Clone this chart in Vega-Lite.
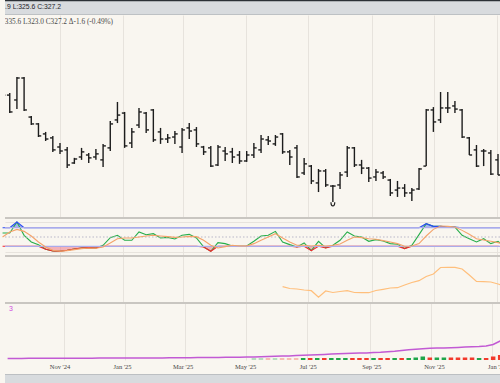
{
"$schema": "https://vega.github.io/schema/vega-lite/v6.json",
"background": "#f9f6f0",
"padding": 0,
"spacing": 0,
"bounds": "flush",
"config": {"view": {"stroke": null}, "axis": {"labels": false, "ticks": false, "domain": false, "grid": false, "minExtent": 0, "gridColor": "#e7e3dd", "gridWidth": 1, "gridOpacity": 1}},
"datasets": {
"w": [
{"date":"2024-09-06","open":361.1,"high":363.8,"low":359.3,"close":361.5,"k":62.9,"d":50.0,"oi":1.6},
{"date":"2024-09-13","open":361.5,"high":362.4,"low":353.4,"close":353.9,"k":62.9,"d":66.1,"oi":1.6},
{"date":"2024-09-20","open":359.3,"high":369.6,"low":355.2,"close":369.2,"k":98.2,"d":74.6,"oi":1.6},
{"date":"2024-09-27","open":369.2,"high":369.6,"low":354.3,"close":354.8,"k":55.4,"d":68.2,"oi":1.7},
{"date":"2024-10-04","open":351.6,"high":352.1,"low":348.0,"close":348.5,"k":33.9,"d":53.2,"oi":1.7},
{"date":"2024-10-11","open":348.5,"high":348.9,"low":342.6,"close":343.1,"k":25.4,"d":33.9,"oi":1.7},
{"date":"2024-10-18","open":344.0,"high":344.9,"low":340.8,"close":341.7,"k":10.4,"d":17.9,"oi":1.7},
{"date":"2024-10-25","open":342.2,"high":343.1,"low":335.9,"close":336.8,"k":5.0,"d":7.1,"oi":1.7},
{"date":"2024-11-01","open":338.1,"high":339.9,"low":335.0,"close":336.3,"k":3.9,"d":3.9,"oi":1.8},
{"date":"2024-11-08","open":336.8,"high":338.1,"low":328.6,"close":330.0,"k":7.1,"d":6.1,"oi":1.8},
{"date":"2024-11-15","open":330.9,"high":333.2,"low":330.5,"close":332.7,"k":11.4,"d":9.3,"oi":1.8},
{"date":"2024-11-22","open":333.6,"high":337.7,"low":332.3,"close":335.9,"k":14.6,"d":12.5,"oi":1.8},
{"date":"2024-11-29","open":334.5,"high":335.4,"low":330.9,"close":333.2,"k":15.7,"d":14.6,"oi":1.8},
{"date":"2024-12-06","open":333.6,"high":337.2,"low":332.3,"close":335.0,"k":14.6,"d":13.6,"oi":1.9},
{"date":"2024-12-13","open":332.3,"high":339.5,"low":329.1,"close":338.6,"k":23.2,"d":17.9,"oi":1.9},
{"date":"2024-12-20","open":337.7,"high":349.8,"low":336.3,"close":348.5,"k":47.9,"d":30.7,"oi":1.9},
{"date":"2024-12-27","open":350.3,"high":358.4,"low":348.9,"close":352.5,"k":55.4,"d":44.6,"oi":1.9},
{"date":"2025-01-03","open":353.4,"high":353.9,"low":337.7,"close":338.6,"k":39.3,"d":46.8,"oi":2.0},
{"date":"2025-01-10","open":339.9,"high":346.7,"low":337.7,"close":344.9,"k":39.3,"d":46.8,"oi":2.0},
{"date":"2025-01-17","open":348.0,"high":355.7,"low":346.7,"close":353.9,"k":66.1,"d":50.0,"oi":2.0},
{"date":"2025-01-24","open":353.4,"high":353.9,"low":344.4,"close":345.8,"k":57.5,"d":53.2,"oi":2.0},
{"date":"2025-01-31","open":354.8,"high":355.2,"low":340.4,"close":341.3,"k":60.7,"d":55.4,"oi":2.1},
{"date":"2025-02-07","open":344.9,"high":346.7,"low":339.5,"close":341.7,"k":46.8,"d":53.2,"oi":2.1},
{"date":"2025-02-14","open":341.7,"high":344.0,"low":339.9,"close":342.2,"k":48.9,"d":51.1,"oi":2.2},
{"date":"2025-02-21","open":342.6,"high":345.3,"low":339.5,"close":344.0,"k":43.6,"d":48.9,"oi":2.2},
{"date":"2025-02-28","open":338.1,"high":346.7,"low":335.4,"close":345.8,"k":55.4,"d":50.0,"oi":2.3},
{"date":"2025-03-07","open":346.7,"high":348.9,"low":341.7,"close":345.3,"k":58.6,"d":52.1,"oi":2.3},
{"date":"2025-03-14","open":345.8,"high":347.1,"low":338.1,"close":339.5,"k":46.8,"d":51.1,"oi":2.4},
{"date":"2025-03-21","open":338.1,"high":338.6,"low":334.5,"close":335.9,"k":17.9,"d":39.3,"oi":2.4},
{"date":"2025-03-28","open":337.7,"high":338.6,"low":329.1,"close":329.5,"k":3.9,"d":23.2,"oi":2.5},
{"date":"2025-04-04","open":330.0,"high":339.0,"low":329.5,"close":338.1,"k":31.8,"d":14.6,"oi":2.6},
{"date":"2025-04-11","open":336.3,"high":338.1,"low":331.8,"close":335.0,"k":28.6,"d":18.9,"oi":2.7},
{"date":"2025-04-18","open":335.9,"high":337.7,"low":330.9,"close":333.6,"k":21.1,"d":23.2,"oi":2.7},
{"date":"2025-04-25","open":334.5,"high":336.3,"low":330.5,"close":331.8,"k":20.0,"d":21.1,"oi":2.8},
{"date":"2025-05-02","open":331.8,"high":336.3,"low":331.4,"close":334.5,"k":21.1,"d":21.1,"oi":2.9},
{"date":"2025-05-09","open":334.5,"high":339.9,"low":333.2,"close":337.7,"k":36.1,"d":28.6,"oi":3.1,"vol":2},
{"date":"2025-05-16","open":336.8,"high":343.5,"low":335.4,"close":341.7,"k":53.2,"d":39.3,"oi":3.3,"vol":2},
{"date":"2025-05-23","open":341.3,"high":343.1,"low":339.0,"close":340.8,"k":55.4,"d":50.0,"oi":3.5,"vol":2},
{"date":"2025-05-30","open":339.5,"high":343.5,"low":338.6,"close":342.6,"k":68.2,"d":60.7,"oi":3.7,"vol":2},
{"date":"2025-06-06","open":344.0,"high":344.4,"low":335.0,"close":335.9,"k":33.9,"d":46.8,"oi":3.9,"vol":2,"h":32.6},
{"date":"2025-06-13","open":335.9,"high":336.8,"low":330.0,"close":333.6,"k":25.4,"d":33.9,"oi":4.1,"vol":2,"h":29.0},
{"date":"2025-06-20","open":337.7,"high":339.0,"low":324.1,"close":324.6,"k":17.9,"d":23.2,"oi":4.4,"vol":2,"h":28.0},
{"date":"2025-06-27","open":326.4,"high":333.2,"low":325.5,"close":330.5,"k":30.7,"d":23.2,"oi":4.8,"vol":2,"h":26.0},
{"date":"2025-07-04","open":329.5,"high":330.0,"low":321.4,"close":322.8,"k":6.1,"d":21.1,"oi":5.0,"vol":2,"h":24.6},
{"date":"2025-07-11","open":321.9,"high":328.2,"low":317.8,"close":327.3,"k":36.1,"d":23.2,"oi":5.3,"vol":2,"h":11.4},
{"date":"2025-07-18","open":327.3,"high":328.2,"low":320.1,"close":321.0,"k":14.6,"d":21.1,"oi":5.6,"vol":2,"h":24.0},
{"date":"2025-07-25","open":320.5,"high":321.0,"low":313.3,"close":320.5,"k":23.2,"d":23.2,"oi":5.9,"vol":2,"h":21.0},
{"date":"2025-08-01","open":321.0,"high":326.8,"low":319.2,"close":325.5,"k":39.3,"d":27.5,"oi":6.2,"vol":2,"h":23.0},
{"date":"2025-08-08","open":326.8,"high":338.6,"low":324.6,"close":337.7,"k":66.1,"d":39.3,"oi":6.5,"vol":2,"h":24.6},
{"date":"2025-08-15","open":337.7,"high":338.1,"low":329.1,"close":330.0,"k":53.2,"d":50.0,"oi":6.7,"vol":2,"h":21.0},
{"date":"2025-08-22","open":330.0,"high":332.3,"low":325.9,"close":328.6,"k":50.0,"d":47.9,"oi":6.9,"vol":2,"h":20.6},
{"date":"2025-08-29","open":328.6,"high":329.1,"low":322.3,"close":324.1,"k":36.1,"d":44.6,"oi":7.1,"vol":2,"h":20.6},
{"date":"2025-09-05","open":324.6,"high":328.2,"low":322.8,"close":326.8,"k":41.4,"d":42.5,"oi":7.4,"vol":2,"h":25.0},
{"date":"2025-09-12","open":326.4,"high":327.3,"low":323.7,"close":324.6,"k":37.1,"d":38.2,"oi":7.7,"vol":2,"h":27.4},
{"date":"2025-09-19","open":323.2,"high":323.7,"low":316.0,"close":317.4,"k":28.6,"d":33.9,"oi":8.2,"vol":2,"h":30.0},
{"date":"2025-09-26","open":318.7,"high":322.8,"low":315.6,"close":319.6,"k":26.4,"d":28.6,"oi":8.8,"vol":2,"h":30.6},
{"date":"2025-10-03","open":319.6,"high":321.4,"low":315.6,"close":317.4,"k":12.5,"d":20.0,"oi":9.6,"vol":2,"h":36.0},
{"date":"2025-10-10","open":317.4,"high":319.6,"low":313.8,"close":318.7,"k":23.2,"d":21.1,"oi":10.3,"vol":2,"h":41.0},
{"date":"2025-10-17","open":319.2,"high":328.6,"low":318.7,"close":328.2,"k":57.5,"d":28.6,"oi":10.8,"vol":2.5,"h":44.6},
{"date":"2025-10-24","open":329.5,"high":355.2,"low":329.5,"close":354.8,"k":92.9,"d":53.2,"oi":11.3,"vol":3.5,"h":53.0},
{"date":"2025-10-31","open":354.8,"high":356.1,"low":344.9,"close":349.4,"k":84.3,"d":74.6,"oi":11.8,"vol":2.5,"h":58.0},
{"date":"2025-11-07","open":350.3,"high":362.9,"low":348.9,"close":355.7,"k":84.3,"d":85.4,"oi":12.0,"vol":2.5,"h":71.0},
{"date":"2025-11-14","open":355.7,"high":362.9,"low":353.4,"close":355.7,"k":82.1,"d":84.3,"oi":12.1,"vol":2.5,"h":71.4},
{"date":"2025-11-21","open":356.6,"high":358.8,"low":353.4,"close":355.2,"k":82.1,"d":82.1,"oi":12.3,"vol":2.5,"h":71.4},
{"date":"2025-11-28","open":354.8,"high":355.2,"low":342.2,"close":342.6,"k":55.4,"d":71.4,"oi":12.6,"vol":2.5,"h":68.0},
{"date":"2025-12-05","open":342.2,"high":342.6,"low":334.5,"close":334.5,"k":44.6,"d":58.6,"oi":12.9,"vol":2.5,"h":56.0},
{"date":"2025-12-12","open":336.8,"high":339.0,"low":329.1,"close":329.5,"k":33.9,"d":44.6,"oi":13.2,"vol":2.5,"h":43.0},
{"date":"2025-12-19","open":336.3,"high":337.2,"low":329.5,"close":336.3,"k":44.6,"d":40.4,"oi":13.5,"vol":2,"h":42.6},
{"date":"2025-12-26","open":335.4,"high":336.8,"low":325.5,"close":325.9,"k":28.6,"d":36.1,"oi":14.0,"vol":2,"h":42.0},
{"date":"2026-01-02","open":332.3,"high":335.0,"low":325.5,"close":325.5,"k":36.1,"d":31.8,"oi":15.5,"vol":3.5,"h":38.0},
{"date":"2026-01-09","open":333.2,"high":333.6,"low":318.7,"close":320.1,"k":17.9,"d":25.4,"oi":19.0,"vol":5,"h":34.0}
],
"months": [
{"date":"2024-11-01","label":"Nov '24"},
{"date":"2025-01-01","label":"Jan '25"},
{"date":"2025-03-01","label":"Mar '25"},
{"date":"2025-05-01","label":"May '25"},
{"date":"2025-07-01","label":"Jul '25"},
{"date":"2025-09-01","label":"Sep '25"},
{"date":"2025-11-01","label":"Nov '25"},
{"date":"2026-01-01","label":"Jan '26"}
]
},
"vconcat": [
{
"width": 500, "height": 15,
"view": {"fill": "#d8dbde", "stroke": null},
"layer": [
{"data": {"values": [{}]}, "mark": {"type": "rule", "color": "#2b3035", "strokeWidth": 2.5, "clip": true},
 "encoding": {"y": {"datum": 15, "type": "quantitative", "scale": {"domain": [0, 15]}, "axis": null}}},
{"data": {"values": [{}]}, "mark": {"type": "rule", "color": "#a3a6aa", "strokeWidth": 1, "clip": true},
 "encoding": {"y": {"datum": 0, "type": "quantitative", "scale": {"domain": [0, 15]}, "axis": null}}},
{"data": {"values": [{"date": "2024-11-02T00:00:00Z", "t": "H:333.9 L:325.6 C:327.2"}]},
 "mark": {"type": "text", "align": "right", "baseline": "middle", "font": "Liberation Sans", "fontSize": 6.8, "color": "#1f2328", "clip": true},
 "encoding": {
  "x": {"field": "date", "type": "temporal", "scale": {"type": "utc", "domain": [{"year": 2024, "month": 9, "date": 8, "hours": 9, "minutes": 7, "utc": true}, {"year": 2026, "month": 1, "date": 8, "hours": 19, "minutes": 26, "utc": true}]}, "axis": null},
  "y": {"datum": 7.7, "type": "quantitative", "scale": {"domain": [0, 15]}, "axis": null},
  "text": {"field": "t"}}}
]
},
{
"width": 500, "height": 203,
"data": {"name": "w"},
"encoding": {"x": {"field": "date", "type": "temporal", "scale": {"type": "utc", "domain": [{"year": 2024, "month": 9, "date": 8, "hours": 9, "minutes": 7, "utc": true}, {"year": 2026, "month": 1, "date": 8, "hours": 19, "minutes": 26, "utc": true}]},
  "axis": {"grid": true, "title": null, "values": [{"year":2024,"month":11,"date":1,"utc":true},{"year":2025,"month":1,"date":1,"utc":true},{"year":2025,"month":3,"date":1,"utc":true},{"year":2025,"month":5,"date":1,"utc":true},{"year":2025,"month":7,"date":1,"utc":true},{"year":2025,"month":9,"date":1,"utc":true},{"year":2025,"month":11,"date":1,"utc":true},{"year":2026,"month":1,"date":1,"utc":true}]}}},
"layer": [
{"mark": {"type": "rule", "color": "#1d1d1d", "strokeWidth": 1.4, "clip": true},
 "encoding": {"y": {"field": "low", "type": "quantitative", "scale": {"domain": [306.1, 397.6], "nice": false, "zero": false}, "axis": {"grid": true, "title": null, "values": [310, 320, 330, 340, 350, 360, 370, 380, 390]}}, "y2": {"field": "high"}}},
{"mark": {"type": "rule", "color": "#1d1d1d", "strokeWidth": 1.4, "xOffset": -2.8, "clip": true},
 "encoding": {"x2": {"field": "date"}, "y": {"field": "open", "type": "quantitative", "axis": null}}},
{"mark": {"type": "rule", "color": "#1d1d1d", "strokeWidth": 1.4, "x2Offset": 2.8, "clip": true},
 "encoding": {"x2": {"field": "date"}, "y": {"field": "close", "type": "quantitative", "axis": null}}},
{"data": {"values": [{"date": "2025-07-25", "v": 313.3}]},
 "mark": {"type": "point", "shape": "M -1 -1 Q -1 1 0 1 Q 1 1 1 -1", "filled": false, "color": "#1d1d1d", "strokeWidth": 1.2, "size": 14, "yOffset": 2, "opacity": 1},
 "encoding": {"y": {"field": "v", "type": "quantitative", "axis": null}}},
{"data": {"values": [{"date": "2024-12-22T17:00:00Z", "v": 394.4, "t": "H335.6 L323.0 C327.2 Δ-1.6 (-0.49%)"}]},
 "mark": {"type": "text", "align": "right", "baseline": "middle", "font": "Liberation Serif", "fontSize": 7.3, "color": "#4a4a4a", "clip": true},
 "encoding": {"y": {"field": "v", "type": "quantitative", "axis": null}, "text": {"field": "t"}}}
]
},
{
"width": 500, "height": 38,
"data": {"name": "w"},
"encoding": {"x": {"field": "date", "type": "temporal", "scale": {"type": "utc", "domain": [{"year": 2024, "month": 9, "date": 8, "hours": 9, "minutes": 7, "utc": true}, {"year": 2026, "month": 1, "date": 8, "hours": 19, "minutes": 26, "utc": true}]},
  "axis": {"grid": true, "title": null, "values": [{"year":2024,"month":11,"date":1,"utc":true},{"year":2025,"month":1,"date":1,"utc":true},{"year":2025,"month":3,"date":1,"utc":true},{"year":2025,"month":5,"date":1,"utc":true},{"year":2025,"month":7,"date":1,"utc":true},{"year":2025,"month":9,"date":1,"utc":true},{"year":2025,"month":11,"date":1,"utc":true},{"year":2026,"month":1,"date":1,"utc":true}]}}},
"layer": [
{"mark": {"type": "area", "color": "#7088f0", "opacity": 0.6},
 "encoding": {"y": {"field": "k", "type": "quantitative", "scale": {"domain": [80, 111.3], "range": [9.7, 0], "clamp": true, "nice": false, "zero": false}, "axis": null}, "y2": {"datum": 80}}},
{"mark": {"type": "area", "color": "#f07a88", "opacity": 0.55},
 "encoding": {"y": {"field": "k", "type": "quantitative", "scale": {"domain": [-11.3, 20], "range": [38, 28.3], "clamp": true, "nice": false, "zero": false}, "axis": null}, "y2": {"datum": 20}}},
{"layer": [
  {"mark": {"type": "line", "color": "#27ae4a", "strokeWidth": 1.1},
   "encoding": {"y": {"field": "k", "type": "quantitative", "scale": {"domain": [-11.3, 111.3], "nice": false, "zero": false}, "axis": {"grid": true, "title": null, "values": [0, 100]}}}}
 ]},
{"mark": {"type": "line", "color": "#2b4cf2", "strokeWidth": 1.1},
 "encoding": {"y": {"field": "k", "type": "quantitative", "scale": {"domain": [80, 111.3], "range": [9.7, 0], "clamp": true, "nice": false, "zero": false}, "axis": null}}},
{"mark": {"type": "line", "color": "#f2262b", "strokeWidth": 1.1},
 "encoding": {"y": {"field": "k", "type": "quantitative", "scale": {"domain": [-11.3, 20], "range": [38, 28.3], "clamp": true, "nice": false, "zero": false}, "axis": null}}},
{"layer": [
  {"data": {"values": [{"lv": 80}, {"lv": 20}]}, "mark": {"type": "rule", "color": "#ababea", "strokeWidth": 1.3},
   "encoding": {"x": {"value": 0}, "x2": {"value": 500}, "y": {"field": "lv", "type": "quantitative", "scale": {"domain": [-11.3, 111.3], "nice": false, "zero": false}, "axis": null}}},
  {"data": {"values": [{"lv": 50}]}, "mark": {"type": "rule", "color": "#b9b7c8", "strokeWidth": 1, "strokeDash": [1.5, 2]},
   "encoding": {"x": {"value": 0}, "x2": {"value": 500}, "y": {"field": "lv", "type": "quantitative", "axis": null}}},
  {"data": {"values": [{"lv": 111.3}]}, "mark": {"type": "rule", "color": "#c9c6c1", "strokeWidth": 2},
   "encoding": {"x": {"value": 0}, "x2": {"value": 500}, "y": {"field": "lv", "type": "quantitative", "axis": null}}},
  {"mark": {"type": "line", "color": "#f4a36a", "strokeWidth": 1.1},
   "encoding": {"y": {"field": "d", "type": "quantitative", "axis": null}}}
 ]}
],
"resolve": {"scale": {"y": "independent"}}
},
{
"width": 500, "height": 47,
"data": {"name": "w"},
"encoding": {"x": {"field": "date", "type": "temporal", "scale": {"type": "utc", "domain": [{"year": 2024, "month": 9, "date": 8, "hours": 9, "minutes": 7, "utc": true}, {"year": 2026, "month": 1, "date": 8, "hours": 19, "minutes": 26, "utc": true}]},
  "axis": {"grid": true, "title": null, "values": [{"year":2024,"month":11,"date":1,"utc":true},{"year":2025,"month":1,"date":1,"utc":true},{"year":2025,"month":3,"date":1,"utc":true},{"year":2025,"month":5,"date":1,"utc":true},{"year":2025,"month":7,"date":1,"utc":true},{"year":2025,"month":9,"date":1,"utc":true},{"year":2025,"month":11,"date":1,"utc":true},{"year":2026,"month":1,"date":1,"utc":true}]}}},
"layer": [
{"mark": {"type": "line", "color": "#ffbf7c", "strokeWidth": 1.2},
 "encoding": {"y": {"field": "h", "type": "quantitative", "scale": {"domain": [0, 94], "nice": false, "zero": false}, "axis": {"grid": true, "title": null, "values": [12, 70]}}}},
{"data": {"values": [{"lv": 94}]}, "mark": {"type": "rule", "color": "#c9c6c1", "strokeWidth": 2},
 "encoding": {"x": {"value": 0}, "x2": {"value": 500}, "y": {"field": "lv", "type": "quantitative", "axis": null}}}
]
},
{
"width": 500, "height": 57,
"data": {"name": "w"},
"encoding": {"x": {"field": "date", "type": "temporal", "scale": {"type": "utc", "domain": [{"year": 2024, "month": 9, "date": 8, "hours": 9, "minutes": 7, "utc": true}, {"year": 2026, "month": 1, "date": 8, "hours": 19, "minutes": 26, "utc": true}]},
  "axis": {"grid": true, "title": null, "values": [{"year":2024,"month":11,"date":1,"utc":true},{"year":2025,"month":1,"date":1,"utc":true},{"year":2025,"month":3,"date":1,"utc":true},{"year":2025,"month":5,"date":1,"utc":true},{"year":2025,"month":7,"date":1,"utc":true},{"year":2025,"month":9,"date":1,"utc":true},{"year":2025,"month":11,"date":1,"utc":true},{"year":2026,"month":1,"date":1,"utc":true}]}}},
"layer": [
{"mark": {"type": "bar", "width": 4.5, "clip": true},
 "encoding": {"y": {"field": "vol", "type": "quantitative", "scale": {"domain": [0, 57], "nice": false, "zero": true}, "axis": {"grid": true, "title": null, "values": [38]}},
  "color": {"condition": {"test": "datum.close >= datum.open", "value": "#1fa64a"}, "value": "#f2392b"},
  "opacity": {"condition": {"test": "time(datum.date) < utc(2025, 5, 25)", "value": 0.3}, "value": 1}}},
{"mark": {"type": "line", "color": "#c25ad4", "strokeWidth": 1.5, "clip": true},
 "encoding": {"y": {"field": "oi", "type": "quantitative", "axis": null}}},
{"data": {"values": [{"date": "2024-09-11T08:00:00Z", "v": 51, "t": "3"}]},
 "mark": {"type": "text", "align": "right", "baseline": "middle", "font": "Liberation Sans", "fontSize": 7, "color": "#d04be0", "clip": true},
 "encoding": {"y": {"field": "v", "type": "quantitative", "axis": null}, "text": {"field": "t"}}},
{"data": {"values": [{"lv": 57}]}, "mark": {"type": "rule", "color": "#c9c6c1", "strokeWidth": 2},
 "encoding": {"x": {"value": 0}, "x2": {"value": 500}, "y": {"field": "lv", "type": "quantitative", "axis": null}}}
]
},
{
"width": 500, "height": 14,
"data": {"name": "months"},
"mark": {"type": "text", "baseline": "middle", "align": "center", "font": "Liberation Serif", "fontSize": 6.5, "color": "#444444"},
"encoding": {"x": {"field": "date", "type": "temporal", "scale": {"type": "utc", "domain": [{"year": 2024, "month": 9, "date": 8, "hours": 9, "minutes": 7, "utc": true}, {"year": 2026, "month": 1, "date": 8, "hours": 19, "minutes": 26, "utc": true}]}, "axis": null},
  "text": {"field": "label"}}
},
{
"width": 500, "height": 9,
"view": {"fill": "#d8dbde", "stroke": null},
"data": {"values": [{}]},
"mark": {"type": "rule", "color": "#b3b6b9", "strokeWidth": 1.5, "clip": true},
"encoding": {"y": {"datum": 9, "type": "quantitative", "scale": {"domain": [0, 9]}, "axis": null}}
}
]
}
